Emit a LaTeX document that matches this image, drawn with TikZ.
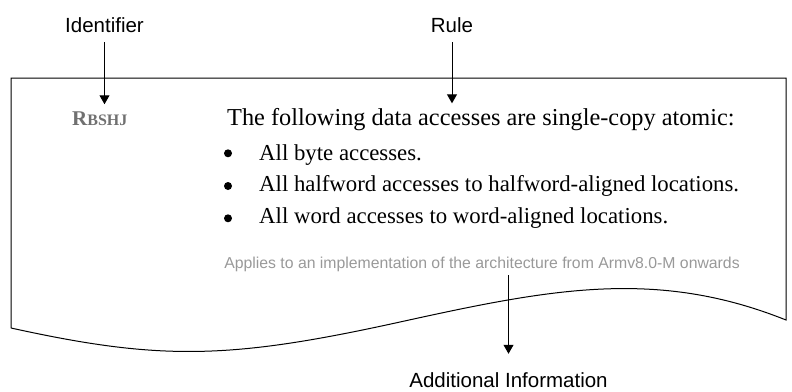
\documentclass[tikz,border=0pt]{standalone}
\usepackage{fontspec}
\setmainfont{Liberation Serif}
\setsansfont{Liberation Sans}
\usetikzlibrary{arrows.meta}
\definecolor{idgray}{HTML}{707070}
\definecolor{notegray}{HTML}{999999}
\tikzset{
  label/.style={font=\sffamily\fontsize{20.5}{24}\selectfont, inner sep=0pt, anchor=center},
  body/.style={font=\fontsize{24.3}{29}\selectfont, inner sep=0pt, anchor=base west},
  item/.style={font=\fontsize{22.8}{27}\selectfont, inner sep=0pt, anchor=base west},
  bul/.style={circle, fill=black, inner sep=0pt, minimum size=8pt},
  pointer/.style={draw=black, line width=1pt, -{Triangle[length=9pt,width=10pt]}},
  outline/.style={draw=black, line width=1pt},
}
\begin{document}
\begin{tikzpicture}[x=1pt,y=-1pt]
\useasboundingbox (0,0) rectangle (792,391);
% document outline
\draw[outline] (11,328) -- (11,78) -- (786,78) -- (786,320)
  .. controls (656,268) and (550,289) .. (400,322)
  .. controls (230,359.4) and (161,361) .. (11,328);
% labels
\node[label] (lid) at (104.5,25) {Identifier};
\node[label] (lrule) at (452,25) {Rule};
\node[label] (ladd) at (508.5,380) {Additional Information};
% identifier
\node[inner sep=0pt, anchor=base west, text=idgray, font=\bfseries] (rid) at (72,125)
  {{\fontsize{21}{24}\selectfont R}{\fontsize{16}{20}\selectfont BSHJ}};
% rule text
\node[body] (rmain) at (227,125) {The following data accesses are single-copy atomic:};
\node[bul] (b1) at (228,153.3) {};
\node[bul] (b2) at (228,186) {};
\node[bul] (b3) at (228,218.3) {};
\node[item] (t1) at (259,160) {All byte accesses.};
\node[item] (t2) at (259,191.7) {All halfword accesses to halfword-aligned locations.};
\node[item] (t3) at (259,223) {All word accesses to word-aligned locations.};
% note
\node[inner sep=0pt, anchor=base, text=notegray, font=\sffamily\fontsize{15.8}{19}\selectfont] (note) at (482,268)
  {Applies to an implementation of the architecture from Armv8.0-M onwards};
% pointers
\draw[pointer, shorten <=9.5pt, shorten >=6.8pt] (lid.south) -- (lid.south |- rid.north);
\draw[pointer, shorten <=9.5pt, shorten >=4.4pt] (lrule.south) -- (lrule.south |- rmain.north);
\draw[pointer, shorten <=3.7pt, shorten >=18.5pt] (note.south -| ladd.north) -- (ladd.north);
\end{tikzpicture}
\end{document}
